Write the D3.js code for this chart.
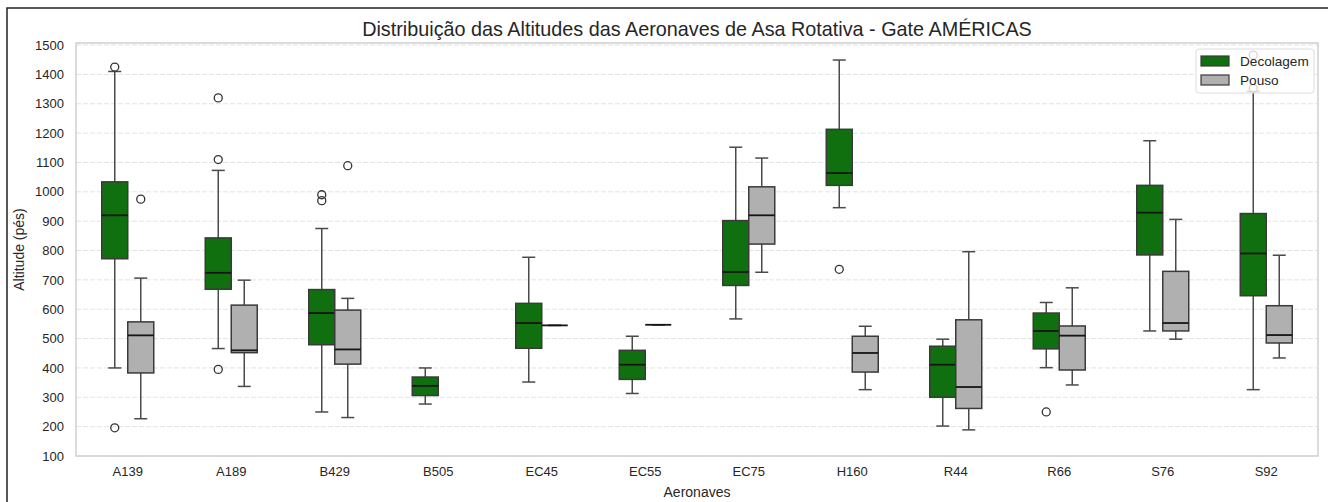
<!DOCTYPE html>
<html>
<head>
<meta charset="utf-8">
<script src="https://cdn.jsdelivr.net/npm/d3@7"></script>
<style>
  html, body { margin: 0; background: #fff; overflow: hidden; }
  svg { display: block; font-family: "Liberation Sans", Arial, sans-serif; }
</style>
</head>
<body>
<div id="chart"></div>
<script>
"use strict";

const categories = ["A139", "A189", "B429", "B505", "EC45", "EC55", "EC75", "H160", "R44", "R66", "S76", "S92"];
const series = ["Decolagem", "Pouso"];

// [lower whisker, q1, median, q3, upper whisker]
const decolagemStats = [
  [400, 772, 920, 1034, 1410],
  [466, 668, 724, 843, 1073],
  [250, 479, 587, 667, 875],
  [277, 306, 339, 369, 400],
  [352, 467, 553, 620, 777],
  [313, 361, 411, 460, 508],
  [567, 681, 727, 902, 1152],
  [946, 1022, 1064, 1213, 1449],
  [202, 300, 411, 474, 498],
  [401, 465, 526, 587, 623],
  [526, 785, 929, 1022, 1174],
  [326, 646, 790, 926, 1342]
];
const pousoStats = [
  [227, 383, 511, 557, 706],
  [337, 452, 460, 614, 699],
  [231, 413, 463, 597, 637],
  null,
  [545, 545, 545, 545, 545],
  [547, 547, 547, 547, 547],
  [726, 822, 920, 1017, 1115],
  [326, 386, 451, 508, 542],
  [189, 262, 335, 564, 796],
  [342, 393, 510, 543, 673],
  [498, 526, 553, 729, 906],
  [434, 485, 512, 612, 784]
];
const decolagemOutliers = [[1425, 196], [1320, 1110, 395], [990, 970], [], [], [], [], [736], [], [250], [], [1352, 1466]];
const pousoOutliers = [[975], [], [1089], [], [], [], [], [], [], [], [], []];
const yTicks = [100, 200, 300, 400, 500, 600, 700, 800, 900, 1000, 1100, 1200, 1300, 1400, 1500];

const COLORS = { Decolagem: "#107010", Pouso: "#b0b0b0" };

function _main() {
  const W = 1328, H = 502;
  const M = { left: 76, right: 1318, top: 43, bottom: 456 };

  const svg = d3.select("#chart").append("svg").attr("width", W).attr("height", H);

  // screenshot frame (top and left)
  svg.append("path").attr("d", `M7,${H} V8 H${W}`).attr("fill", "none").attr("stroke", "#222").attr("stroke-width", 1.5);

  const xScale = d3.scaleBand().domain(categories).range([M.left, M.right]).padding(0);
  const hueScale = d3.scaleBand().domain(series).range([-26, 26]);
  const yScale = d3.scaleLinear().domain([100, 1507]).range([M.bottom, M.top]);

  // grid
  svg.append("g")
    .selectAll("line")
    .data(yTicks)
    .join("line")
    .attr("x1", M.left).attr("x2", M.right)
    .attr("y1", (d) => yScale(d)).attr("y2", (d) => yScale(d))
    .attr("stroke", "#e3e3e3").attr("stroke-width", 1).attr("stroke-dasharray", "5,2");

  // spines
  svg.append("rect")
    .attr("x", M.left).attr("y", M.top)
    .attr("width", M.right - M.left).attr("height", M.bottom - M.top)
    .attr("fill", "none").attr("stroke", "#d0d0d0").attr("stroke-width", 1.5);

  // axes
  const yAxis = svg.append("g")
    .attr("transform", `translate(${M.left}, 0)`)
    .call(d3.axisLeft(yScale).tickValues(yTicks).tickFormat(d3.format("d")).tickSize(0).tickPadding(12));
  yAxis.select(".domain").remove();
  yAxis.selectAll("text").attr("font-size", 13).attr("fill", "#262626").attr("font-family", "Liberation Sans, Arial, sans-serif");

  const xAxis = svg.append("g")
    .attr("transform", `translate(0, ${M.bottom})`)
    .call(d3.axisBottom(xScale).tickSize(0).tickPadding(11));
  xAxis.select(".domain").remove();
  xAxis.selectAll("text").attr("font-size", 13).attr("fill", "#262626").attr("font-family", "Liberation Sans, Arial, sans-serif");

  const allStats = { Decolagem: decolagemStats, Pouso: pousoStats };
  const allOutliers = { Decolagem: decolagemOutliers, Pouso: pousoOutliers };
  const boxW = hueScale.bandwidth();

  series.forEach((s) => {
    categories.forEach((cat, i) => {
      const st = allStats[s][i];
      const cx = xScale(cat) + xScale.bandwidth() / 2 + hueScale(s) + boxW / 2;
      const g = svg.append("g");
      if (st) {
        const [lo, q1, med, q3, hi] = st;
        // whiskers
        g.append("line").attr("x1", cx).attr("x2", cx).attr("y1", yScale(q3)).attr("y2", yScale(hi))
          .attr("stroke", "#4a4a4a").attr("stroke-width", 1.5);
        g.append("line").attr("x1", cx).attr("x2", cx).attr("y1", yScale(q1)).attr("y2", yScale(lo))
          .attr("stroke", "#4a4a4a").attr("stroke-width", 1.5);
        // caps
        [lo, hi].forEach((v) => {
          g.append("line").attr("x1", cx - boxW / 4).attr("x2", cx + boxW / 4)
            .attr("y1", yScale(v)).attr("y2", yScale(v))
            .attr("stroke", "#4a4a4a").attr("stroke-width", 1.5);
        });
        // box
        g.append("rect")
          .attr("x", cx - boxW / 2).attr("y", yScale(q3))
          .attr("width", boxW).attr("height", yScale(q1) - yScale(q3))
          .attr("fill", COLORS[s]).attr("stroke", "#3a3a3a").attr("stroke-width", 1.5);
        // median
        g.append("line").attr("x1", cx - boxW / 2).attr("x2", cx + boxW / 2)
          .attr("y1", yScale(med)).attr("y2", yScale(med))
          .attr("stroke", "#151515").attr("stroke-width", 1.8);
      }
      // fliers
      g.selectAll("circle")
        .data(allOutliers[s][i])
        .join("circle")
        .attr("cx", cx).attr("cy", (d) => yScale(d)).attr("r", 4)
        .attr("fill", "none").attr("stroke", "#333").attr("stroke-width", 1.3);
    });
  });

  // legend
  const lg = svg.append("g").attr("transform", "translate(1196, 49)");
  lg.append("rect").attr("width", 118).attr("height", 44).attr("rx", 3)
    .attr("fill", "#fff").attr("fill-opacity", 0.8).attr("stroke", "#dcdcdc").attr("stroke-width", 1);
  series.forEach((s, i) => {
    lg.append("rect").attr("x", 5).attr("y", 7 + i * 19).attr("width", 28).attr("height", 10)
      .attr("fill", COLORS[s]).attr("stroke", "#3a3a3a").attr("stroke-width", 1.2);
    lg.append("text").attr("x", 44).attr("y", 16.5 + i * 19).attr("font-size", 13.6).attr("fill", "#262626").text(s);
  });

  // title and axis labels
  svg.append("text").attr("x", (M.left + M.right) / 2).attr("y", 36).attr("text-anchor", "middle")
    .attr("font-size", 19.8).attr("fill", "#262626")
    .text("Distribuição das Altitudes das Aeronaves de Asa Rotativa - Gate AMÉRICAS");
  svg.append("text").attr("x", (M.left + M.right) / 2).attr("y", 497).attr("text-anchor", "middle")
    .attr("font-size", 14).attr("fill", "#262626").text("Aeronaves");
  svg.append("text").attr("transform", `translate(24, ${(M.top + M.bottom) / 2}) rotate(-90)`)
    .attr("text-anchor", "middle").attr("font-size", 14).attr("fill", "#262626").text("Altitude (pés)");
}

_main();
</script>
</body>
</html>
